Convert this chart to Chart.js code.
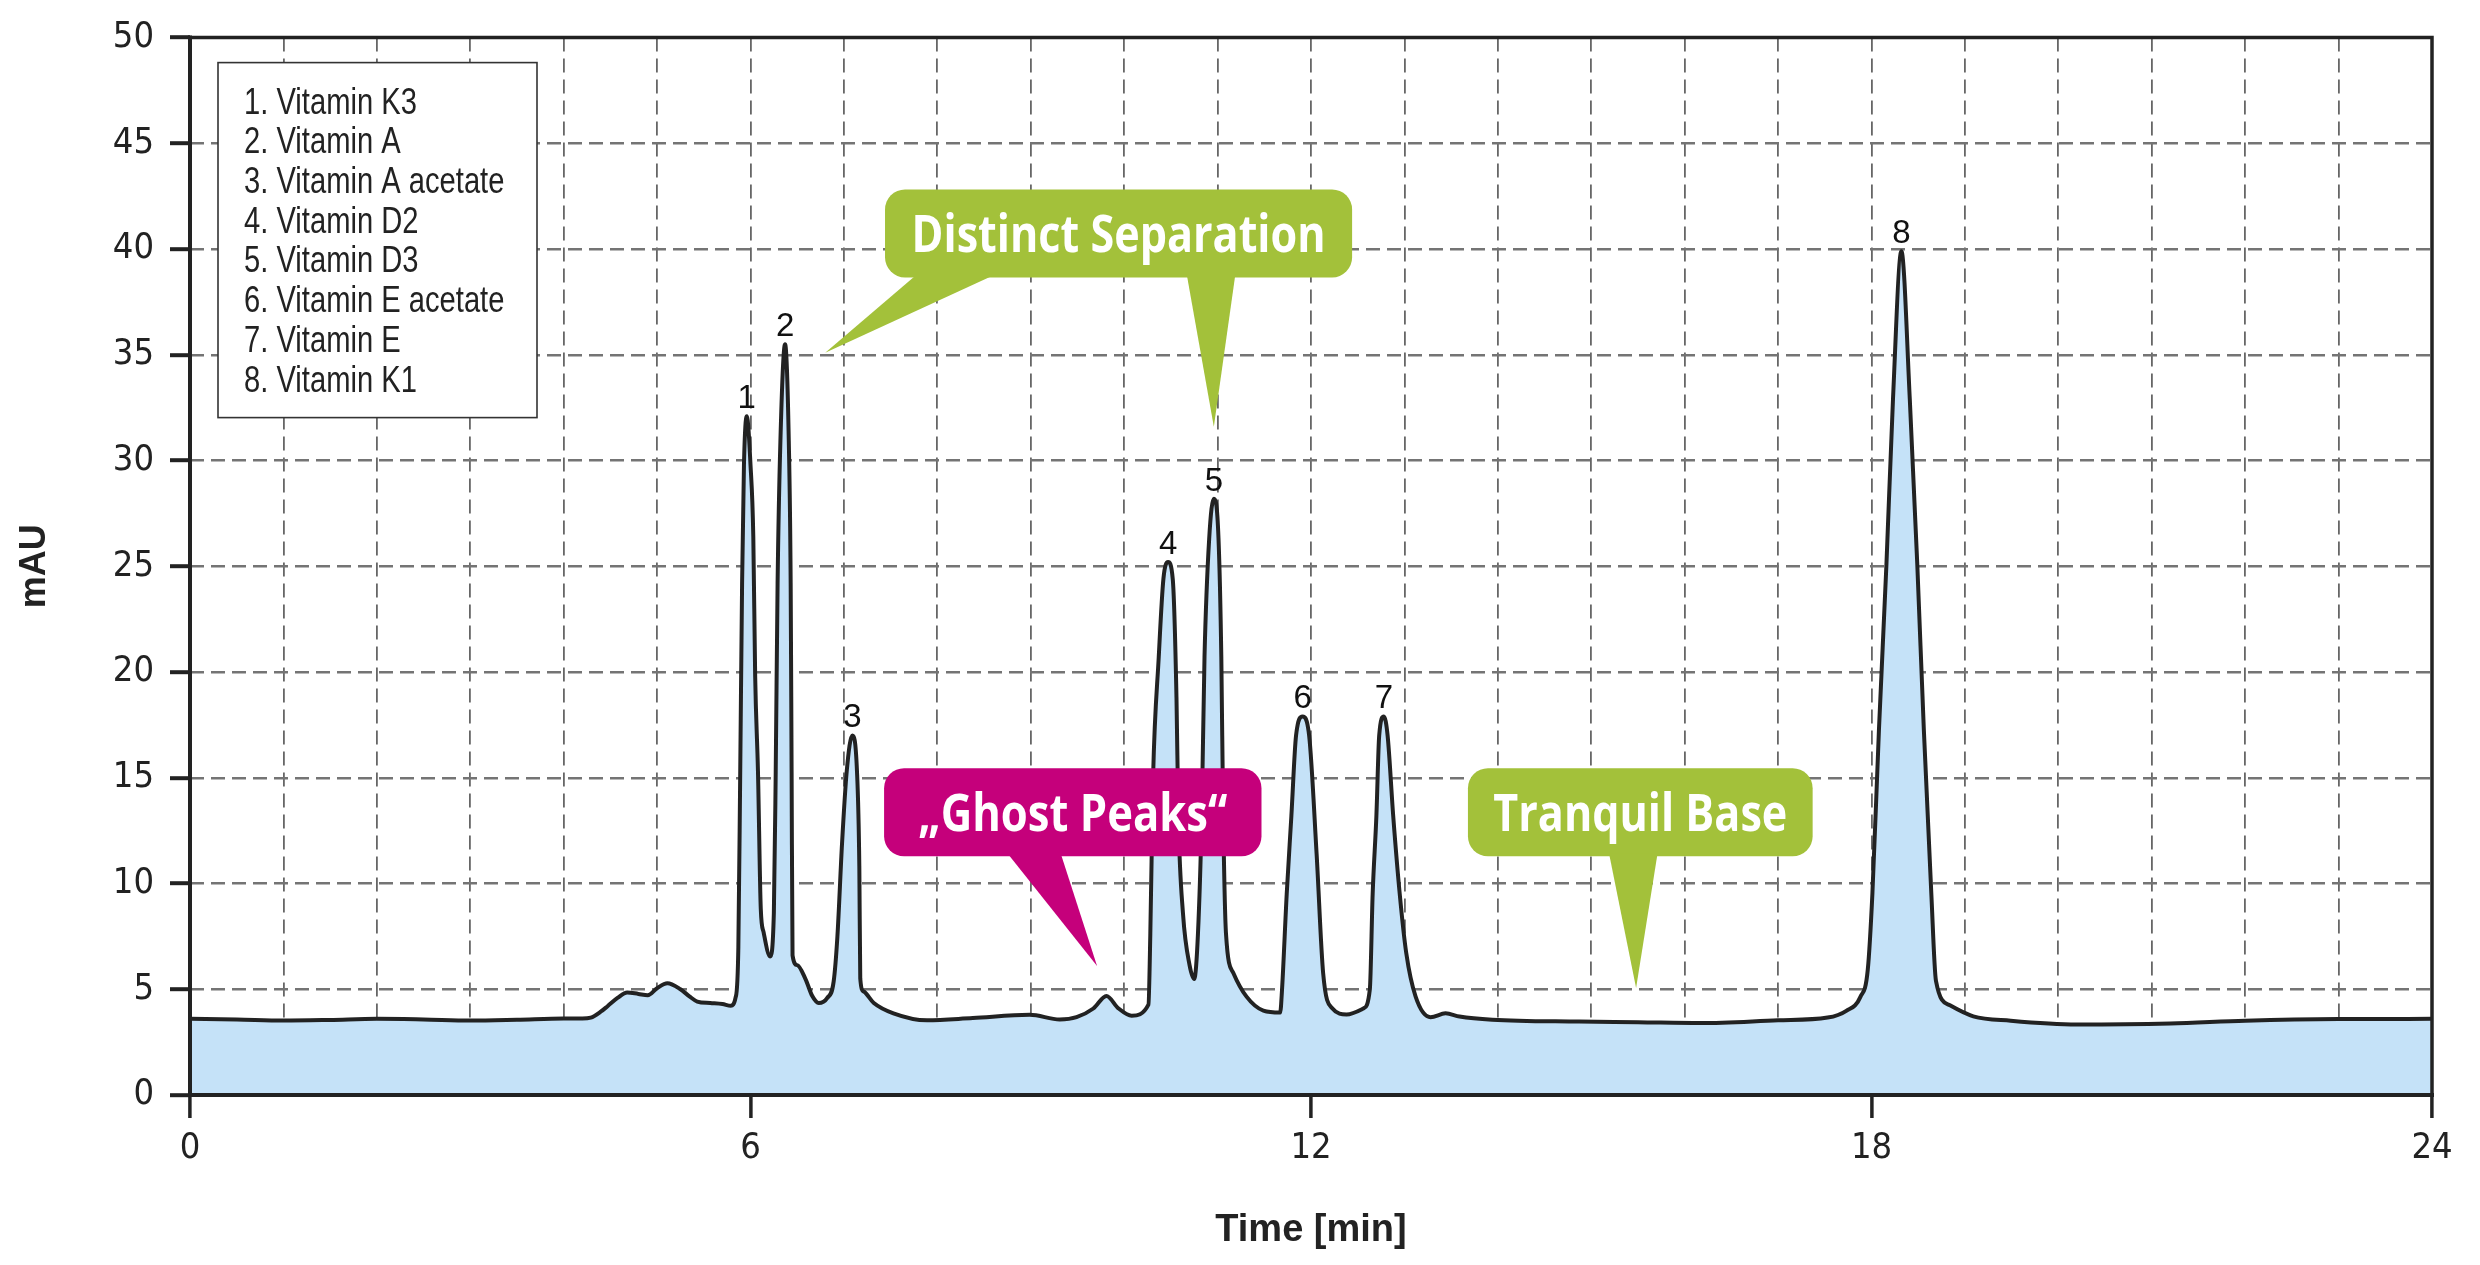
<!DOCTYPE html>
<html>
<head>
<meta charset="utf-8">
<script src="https://cdn.jsdelivr.net/npm/chart.js@4.4.1/dist/chart.umd.min.js"></script>
<style>
html,body{margin:0;padding:0;background:#ffffff;}
#wrap{width:2480px;height:1265px;position:relative;}
</style>
</head>
<body>
<div id="wrap"><canvas id="c" width="2480" height="1265"></canvas></div>
<script>
// ---------- DATA ----------
const times = [
  0.00, 0.50, 1.00, 1.50, 2.00, 2.50, 3.00, 3.50, 4.00, 4.20,
  4.29, 4.40, 4.47, 4.58, 4.68, 4.80, 4.90, 5.00, 5.11, 5.25,
  5.35, 5.43, 5.57, 5.70, 5.79, 5.84, 5.87, 5.89, 5.91, 5.93,
  5.96, 6.00, 6.03, 6.05, 6.08, 6.11, 6.14, 6.21, 6.25, 6.27,
  6.29, 6.32, 6.37, 6.41, 6.43, 6.44, 6.45, 6.50, 6.59, 6.66,
  6.73, 6.82, 6.89, 6.93, 6.98, 7.03, 7.09, 7.14, 7.165, 7.175,
  7.21, 7.32, 7.53, 7.89, 8.38, 8.99, 9.31, 9.49, 9.67, 9.81,
  9.94, 10.08, 10.26, 10.28, 10.31, 10.37, 10.42, 10.47, 10.52, 10.56,
  10.58, 10.63, 10.70, 10.75, 10.79, 10.83, 10.86, 10.91, 10.96, 11.01,
  11.04, 11.06, 11.09, 11.17, 11.31, 11.49, 11.67, 11.69, 11.74, 11.79,
  11.84, 11.91, 11.98, 12.06, 12.13, 12.23, 12.38, 12.56, 12.63, 12.66,
  12.70, 12.73, 12.78, 12.82, 12.88, 12.95, 13.02, 13.12, 13.28, 13.44,
  13.59, 13.94, 14.87, 15.50, 16.17, 17.00, 17.53, 17.73, 17.88, 17.96,
  18.01, 18.08, 18.16, 18.23, 18.32, 18.41, 18.49, 18.56, 18.64, 18.69,
  18.84, 19.09, 19.49, 20.20, 21.20, 22.00, 23.00, 24.00
];
const signal = [
  3.60, 3.57, 3.52, 3.55, 3.60, 3.57, 3.52, 3.56, 3.62, 3.62,
  3.66, 3.95, 4.20, 4.60, 4.85, 4.78, 4.72, 5.05, 5.28, 5.00,
  4.65, 4.42, 4.35, 4.30, 4.22, 4.60, 7.00, 15.3, 24.2, 29.8,
  32.1, 29.8, 26.4, 19.8, 15.3, 8.80, 7.70, 6.55, 8.60, 15.3,
  24.2, 30.9, 35.5, 30.9, 24.2, 15.3, 6.60, 6.14, 5.47, 4.69,
  4.35, 4.58, 5.36, 7.48, 11.9, 15.3, 17.0, 15.3, 10.8, 5.50,
  4.90, 4.35, 3.86, 3.53, 3.64, 3.79, 3.57, 3.68, 4.09, 4.68,
  4.09, 3.75, 4.27, 7.63, 15.1, 20.7, 24.4, 25.2, 24.4, 18.8,
  13.2, 8.56, 6.14, 5.49, 7.63, 13.2, 20.7, 26.3, 28.2, 26.3,
  20.7, 13.2, 7.63, 5.76, 4.65, 3.99, 3.90, 5.00, 9.50, 13.2,
  17.0, 17.9, 17.0, 11.4, 5.76, 4.09, 3.81, 4.09, 5.00, 9.50,
  13.2, 17.0, 17.9, 17.0, 13.2, 9.50, 6.70, 4.65, 3.68, 3.86,
  3.71, 3.56, 3.47, 3.44, 3.40, 3.53, 3.66, 3.98, 4.63, 5.92,
  9.56, 17.3, 25.1, 32.9, 39.9, 32.9, 25.1, 17.3, 9.56, 5.40,
  4.24, 3.72, 3.51, 3.33, 3.38, 3.51, 3.59, 3.60
];
const peakNumbers = ['1', '2', '3', '4', '5', '6', '7', '8'];
const peakTimes   = [5.96, 6.37, 7.09, 10.47, 10.96, 11.91, 12.78, 18.32];
const peakHeights = [32.1, 35.5, 17.0, 25.2, 28.2, 17.9, 17.9, 39.9];
const compounds = [
  '1. Vitamin K3', '2. Vitamin A', '3. Vitamin A acetate', '4. Vitamin D2',
  '5. Vitamin D3', '6. Vitamin E acetate', '7. Vitamin E', '8. Vitamin K1'
];
const xLabelEvery = 6;       // x tick labels 0, 6, 12, 18, 24
const yTickStep = 5;         // y tick labels 0 ... 50
const xTitle = 'Time [min]';
const yTitle = 'mAU';
const calloutTexts = ['Distinct Separation', '\u201EGhost Peaks\u201C', 'Tranquil Base'];

// ---------- STYLE ----------
const NARROW = "'Liberation Sans Narrow', 'Arial Narrow', 'DejaVu Sans Condensed', sans-serif";
const SANS = "'Liberation Sans', Arial, sans-serif";
const INK = '#222222';
const GREEN = '#a3c13a';
const MAGENTA = '#c5007b';

// annotation placement (data units)
const callouts = [
  { text: calloutTexts[0], color: GREEN, box: [7.44, 12.44, 38.66, 42.82], textWidth: 414,
    pointers: [ { base: [7.78, 8.62], tip: [6.80, 35.1] }, { base: [10.67, 11.19], tip: [10.96, 31.6] } ] },
  { text: calloutTexts[1], color: MAGENTA, box: [7.43, 11.47, 11.29, 15.45], textWidth: 309,
    pointers: [ { base: [8.75, 9.32], tip: [9.71, 6.10] } ] },
  { text: calloutTexts[2], color: GREEN, box: [13.68, 17.37, 11.29, 15.45], textWidth: 294,
    pointers: [ { base: [15.19, 15.71], tip: [15.48, 5.06] } ] }
];

const framePlugin = {
  id: 'frame',
  afterDatasetsDraw(chart) {
    const {ctx, chartArea: a} = chart;
    ctx.save();
    ctx.strokeStyle = INK;
    ctx.lineCap = 'square';
    ctx.lineWidth = 3.5;
    ctx.beginPath();
    ctx.moveTo(a.left, a.top); ctx.lineTo(a.right, a.top);
    ctx.moveTo(a.right, a.top); ctx.lineTo(a.right, a.bottom);
    ctx.stroke();
    ctx.lineWidth = 4;
    ctx.beginPath();
    ctx.moveTo(a.left, a.top); ctx.lineTo(a.left, a.bottom);
    ctx.moveTo(a.left, a.bottom); ctx.lineTo(a.right, a.bottom);
    ctx.stroke();
    ctx.restore();
  }
};

const peakLabelPlugin = {
  id: 'peakLabels',
  afterDatasetsDraw(chart) {
    const {ctx, scales: {x, y}} = chart;
    ctx.save();
    ctx.fillStyle = '#111';
    ctx.font = '33px ' + SANS;
    ctx.textAlign = 'center';
    ctx.textBaseline = 'alphabetic';
    peakNumbers.forEach((n, i) => {
      ctx.fillText(n, x.getPixelForValue(peakTimes[i]), y.getPixelForValue(peakHeights[i]) - 8);
    });
    ctx.restore();
  }
};

const legendBoxPlugin = {
  id: 'legendBox',
  afterDraw(chart) {
    const {ctx, chartArea: a} = chart;
    const bx = a.left + 28, by = a.top + 25, bw = 319, bh = 355;
    ctx.save();
    ctx.fillStyle = '#fff';
    ctx.fillRect(bx, by, bw, bh);
    ctx.strokeStyle = '#333';
    ctx.lineWidth = 1.6;
    ctx.strokeRect(bx, by, bw, bh);
    ctx.fillStyle = INK;
    ctx.font = '36px ' + SANS;
    ctx.textAlign = 'left';
    ctx.textBaseline = 'alphabetic';
    compounds.forEach((s, i) => {
      ctx.save();
      ctx.translate(bx + 26, by + 51 + i * 39.7);
      ctx.scale(0.81, 1);          // narrow face
      ctx.fillText(s, 0, 0);
      ctx.restore();
    });
    ctx.restore();
  }
};

const calloutPlugin = {
  id: 'callouts',
  afterDraw(chart) {
    const {ctx, scales: {x, y}} = chart;
    ctx.save();
    callouts.forEach(c => {
      const L = x.getPixelForValue(c.box[0]), R = x.getPixelForValue(c.box[1]);
      const B = y.getPixelForValue(c.box[2]), T = y.getPixelForValue(c.box[3]);
      ctx.fillStyle = c.color;
      ctx.beginPath();
      ctx.roundRect(L, T, R - L, B - T, 20);
      ctx.fill();
      c.pointers.forEach(p => {
        ctx.beginPath();
        ctx.moveTo(x.getPixelForValue(p.base[0]), B - 3);
        ctx.lineTo(x.getPixelForValue(p.base[1]), B - 3);
        ctx.lineTo(x.getPixelForValue(p.tip[0]), y.getPixelForValue(p.tip[1]));
        ctx.closePath();
        ctx.fill();
      });
      ctx.font = "bold 52px 'Open Sans', " + SANS;
      const w = ctx.measureText(c.text).width;
      const sx = c.textWidth / w;
      ctx.save();
      ctx.translate((L + R) / 2, (T + B) / 2 + 19);
      ctx.scale(sx, 1);
      ctx.fillStyle = '#ffffff';
      ctx.textAlign = 'center';
      ctx.textBaseline = 'alphabetic';
      ctx.fillText(c.text, 0, 0);
      ctx.restore();
    });
    ctx.restore();
  }
};

const points = times.map((t, i) => ({x: t, y: signal[i]}));

new Chart(document.getElementById('c').getContext('2d'), {
  type: 'line',
  data: {
    datasets: [{
      data: points,
      borderColor: INK,
      borderWidth: 4,
      backgroundColor: '#c5e2f8',
      fill: 'origin',
      pointRadius: 0,
      cubicInterpolationMode: 'monotone'
    }]
  },
  options: {
    responsive: false,
    devicePixelRatio: 1,
    animation: false,
    layout: { padding: { top: 37, right: 48, left: 0, bottom: 0 } },
    plugins: { legend: { display: false }, tooltip: { enabled: false } },
    scales: {
      x: {
        type: 'linear', min: 0, max: 24,
        afterFit: s => { s.height = 170; },
        ticks: {
          stepSize: 1, autoSkip: false, maxRotation: 0, padding: 9,
          callback: v => (v % xLabelEvery === 0 ? String(v) : ''),
          font: { family: NARROW, size: 36 }, color: INK
        },
        grid: {
          color: c => (c.tick && (c.tick.value === 0 || c.tick.value === 24)) ? 'rgba(0,0,0,0)' : '#666666',
          lineWidth: 1.8,
          tickLength: 23, tickWidth: 3.5,
          tickColor: c => (c.tick && c.tick.value % xLabelEvery === 0) ? INK : 'rgba(0,0,0,0)'
        },
        border: { display: false, dash: [14, 7] },
        title: { display: true, text: xTitle, color: INK,
                 font: { family: SANS, size: 38, weight: 'bold' }, padding: { top: 0, bottom: 12 } }
      },
      y: {
        min: 0, max: 50,
        afterFit: s => { s.width = 190; },
        ticks: { stepSize: yTickStep, padding: 16, font: { family: NARROW, size: 36 }, color: INK },
        grid: {
          color: c => (c.tick && (c.tick.value === 0 || c.tick.value === 50)) ? 'rgba(0,0,0,0)' : '#747474',
          lineWidth: 2.4,
          tickLength: 20, tickWidth: 4, tickColor: INK
        },
        border: { display: false, dash: [14, 7] },
        title: { display: true, text: yTitle, color: INK,
                 font: { family: SANS, size: 36, weight: 'bold' }, padding: { top: 13, bottom: 0 } }
      }
    }
  },
  plugins: [framePlugin, peakLabelPlugin, legendBoxPlugin, calloutPlugin]
});
</script>
</body>
</html>
